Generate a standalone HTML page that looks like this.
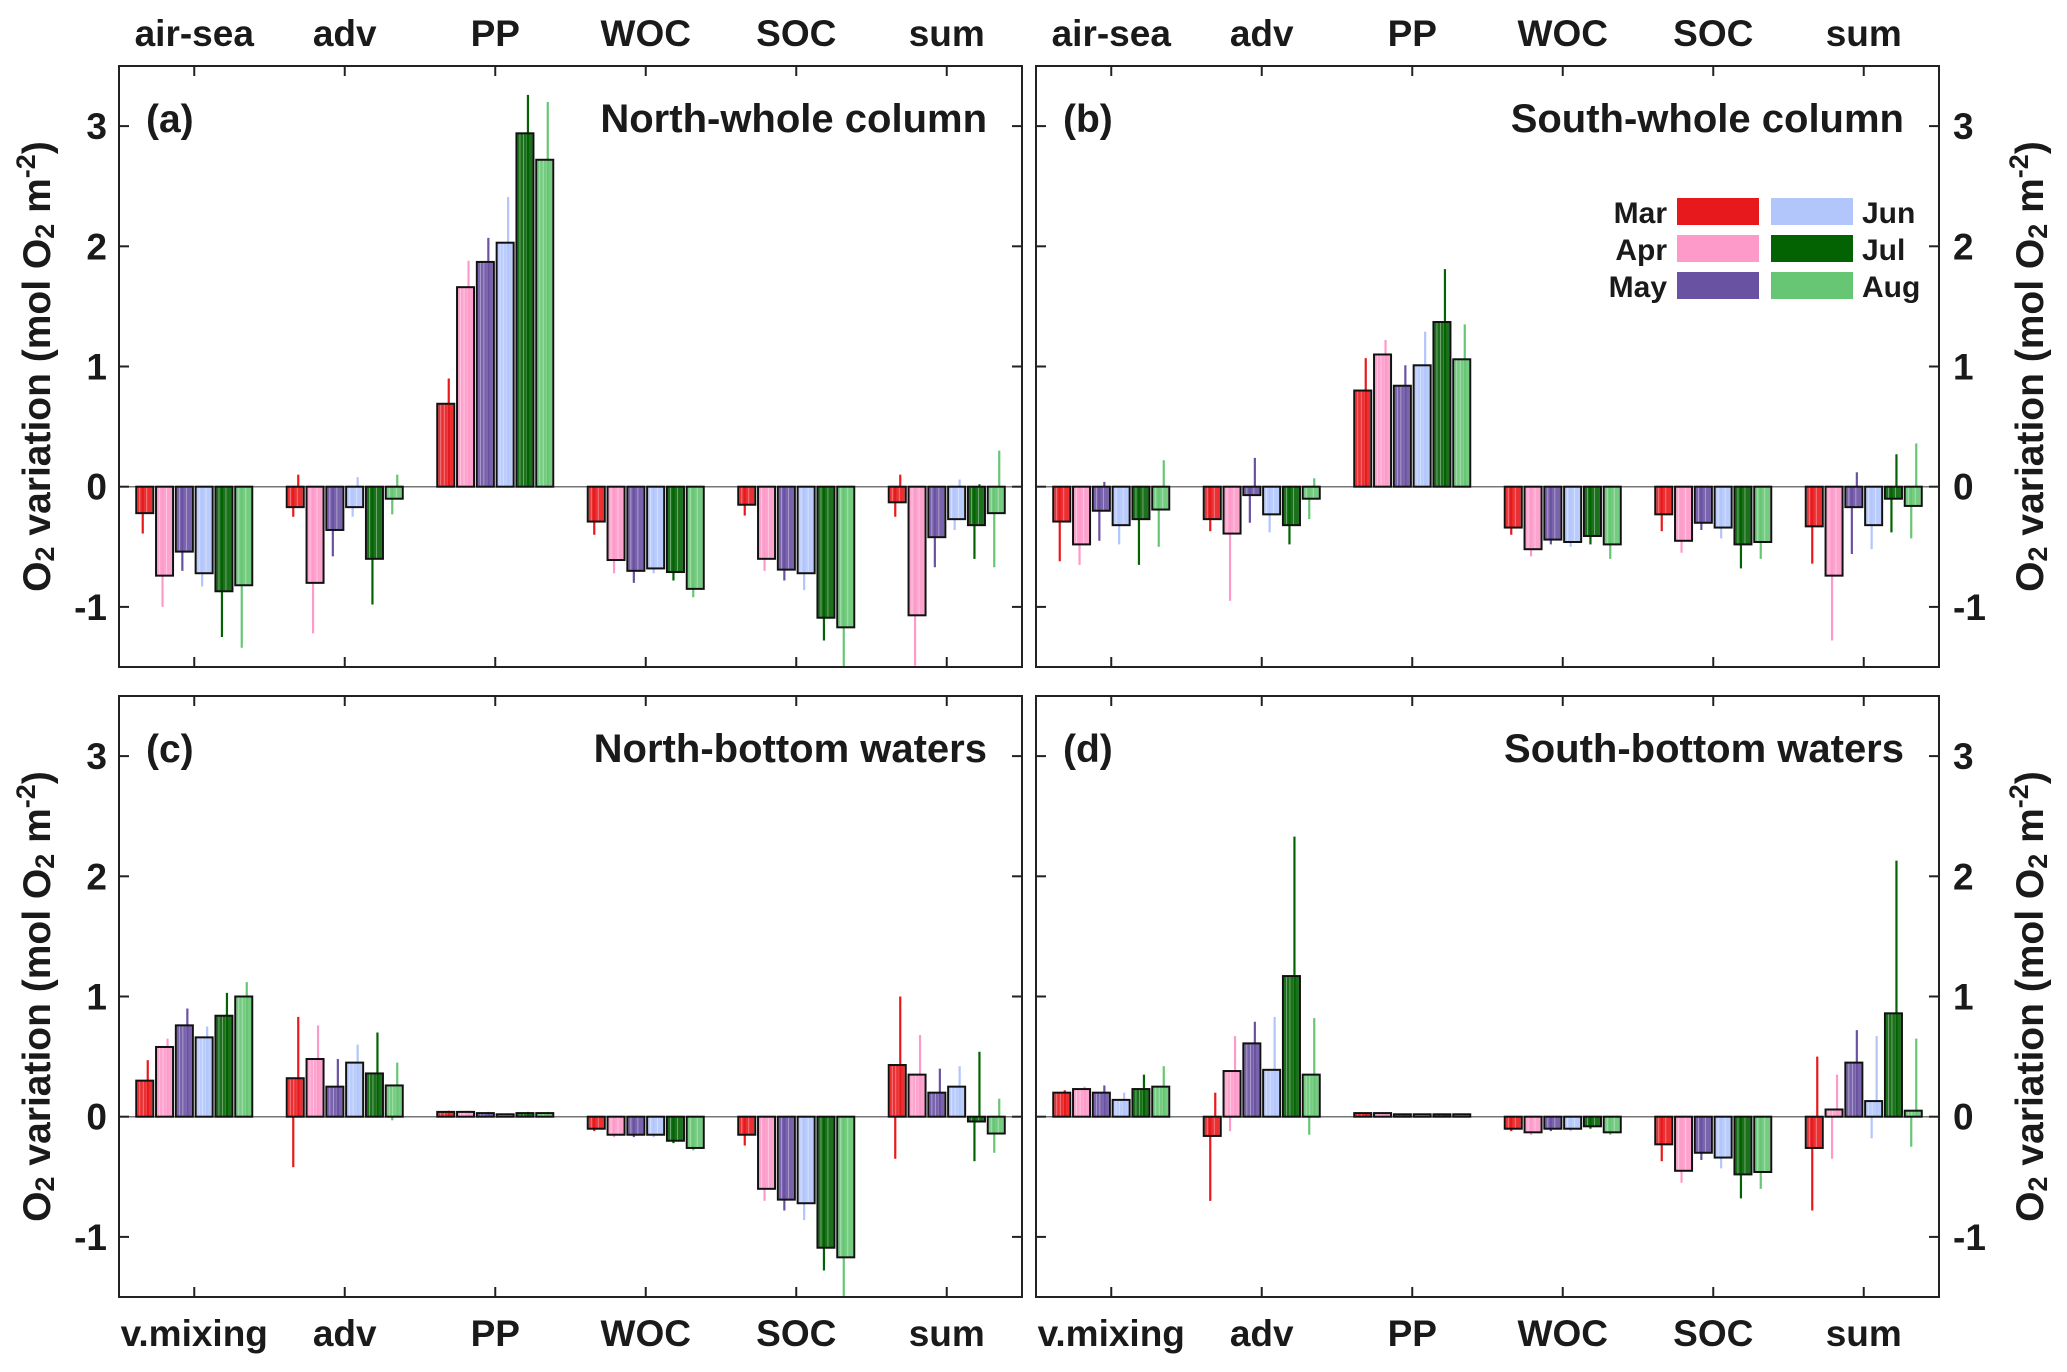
<!DOCTYPE html>
<html><head><meta charset="utf-8"><style>
html,body{margin:0;padding:0;background:#fff}
svg{display:block}
text{font-family:"Liberation Sans",Arial,sans-serif;font-weight:bold;fill:#1a1a1a}
</style></head><body>
<svg id="fig" width="2067" height="1372" viewBox="0 0 2067 1372" xmlns="http://www.w3.org/2000/svg"></svg>
<script>
const months = ["Mar","Apr","May","Jun","Jul","Aug"];
const monthColors = ["#e8191c","#fd9ac9","#6a52a3","#b3c6fc","#036303","#66c673"];
const topCats = ["air-sea","adv","PP","WOC","SOC","sum"];
const bottomCats = ["v.mixing","adv","PP","WOC","SOC","sum"];
const yTicks = [-1,0,1,2,3];
const yTickLabels = ["-1","0","1","2","3"];

// panel (a) North-whole column
const meanA = [[-0.22,-0.74,-0.54,-0.72,-0.87,-0.82],[-0.17,-0.80,-0.36,-0.17,-0.60,-0.10],[0.69,1.66,1.87,2.03,2.94,2.72],[-0.29,-0.61,-0.70,-0.68,-0.71,-0.85],[-0.15,-0.60,-0.69,-0.72,-1.09,-1.17],[-0.13,-1.07,-0.42,-0.27,-0.32,-0.22]];
const hiA = [[0,0,0,0,0,0],[0.10,0,0,0.08,0,0.10],[0.90,1.88,2.07,2.41,3.26,3.20],[0,0,0,0,0,0],[0,0,0,0,0,0],[0.10,0,0,0.06,0.02,0.30]];
const loA = [[-0.39,-1.00,-0.70,-0.83,-1.25,-1.34],[-0.25,-1.22,-0.58,-0.25,-0.98,-0.23],[0,0,0,0,0,0],[-0.40,-0.72,-0.80,-0.72,-0.78,-0.92],[-0.24,-0.70,-0.78,-0.86,-1.28,-1.50],[-0.25,-1.49,-0.67,-0.36,-0.60,-0.67]];
// panel (b) South-whole column
const meanB = [[-0.29,-0.48,-0.20,-0.32,-0.27,-0.19],[-0.27,-0.39,-0.07,-0.23,-0.32,-0.10],[0.80,1.10,0.84,1.01,1.37,1.06],[-0.34,-0.52,-0.44,-0.46,-0.41,-0.48],[-0.23,-0.45,-0.30,-0.34,-0.48,-0.46],[-0.33,-0.74,-0.17,-0.32,-0.10,-0.16]];
const hiB = [[0,0,0.04,0,0,0.22],[0,0,0.24,0,0,0.07],[1.07,1.22,1.01,1.29,1.81,1.35],[0,0,0,0,0,0],[0,0,0,0,0,0],[0,0,0.12,0,0.27,0.36]];
const loB = [[-0.62,-0.65,-0.45,-0.48,-0.65,-0.50],[-0.37,-0.95,-0.30,-0.38,-0.48,-0.27],[0,0,0,0,0,0],[-0.40,-0.58,-0.48,-0.50,-0.48,-0.60],[-0.37,-0.55,-0.36,-0.43,-0.68,-0.60],[-0.64,-1.28,-0.56,-0.52,-0.38,-0.43]];
// panel (c) North-bottom waters
const meanC = [[0.30,0.58,0.76,0.66,0.84,1.00],[0.32,0.48,0.25,0.45,0.36,0.26],[0.04,0.04,0.03,0.02,0.03,0.03],[-0.10,-0.15,-0.15,-0.15,-0.20,-0.26],[-0.15,-0.60,-0.69,-0.72,-1.09,-1.17],[0.43,0.35,0.20,0.25,-0.04,-0.14]];
const hiC = [[0.47,0.65,0.90,0.75,1.03,1.12],[0.83,0.76,0.48,0.60,0.70,0.45],[0.05,0.05,0.04,0.03,0.04,0.04],[0,0,0,0,0,0],[0,0,0,0,0,0],[1.00,0.68,0.40,0.42,0.54,0.15]];
const loC = [[0,0,0,0,0,0],[-0.42,0,0,0,0,-0.03],[0,0,0,0,0,0],[-0.12,-0.17,-0.17,-0.17,-0.22,-0.28],[-0.24,-0.70,-0.78,-0.86,-1.28,-1.50],[-0.35,0,0,0,-0.37,-0.30]];
// panel (d) South-bottom waters
const meanD = [[0.20,0.23,0.20,0.14,0.23,0.25],[-0.16,0.38,0.61,0.39,1.17,0.35],[0.03,0.03,0.02,0.02,0.02,0.02],[-0.10,-0.13,-0.10,-0.10,-0.08,-0.13],[-0.23,-0.45,-0.30,-0.34,-0.48,-0.46],[-0.26,0.06,0.45,0.13,0.86,0.05]];
const hiD = [[0.22,0.25,0.26,0.20,0.35,0.42],[0.20,0.67,0.79,0.83,2.33,0.82],[0.03,0.03,0.02,0.02,0.02,0.02],[0,0,0,0,0,0],[0,0,0,0,0,0],[0.50,0.35,0.72,0.67,2.13,0.65]];
const loD = [[0,0,0,0,0,0],[-0.70,-0.12,0,0,0,-0.15],[0,0,0,0,0,0],[-0.12,-0.15,-0.12,-0.12,-0.10,-0.15],[-0.37,-0.55,-0.36,-0.43,-0.68,-0.60],[-0.78,-0.35,0,-0.18,0,-0.25]];

const panelLetters = ["(a)","(b)","(c)","(d)"];
const panelTitles = ["North-whole column","South-whole column","North-bottom waters","South-bottom waters"];

const NS="http://www.w3.org/2000/svg";
const svg=document.getElementById('fig');
function mk(tag,attrs,parent){const e=document.createElementNS(NS,tag);for(const k in attrs)e.setAttribute(k,attrs[k]);(parent||svg).appendChild(e);return e;}

const PW=903, PH=601, YMIN=-1.5, YMAX=3.5;
const panels=[{x:119,y:66,m:meanA,hi:hiA,lo:loA,right:false,top:true},
  {x:1036,y:66,m:meanB,hi:hiB,lo:loB,right:true,top:true},
  {x:119,y:696,m:meanC,hi:hiC,lo:loC,right:false,top:false},
  {x:1036,y:696,m:meanD,hi:hiD,lo:loD,right:true,top:false}];

panels.forEach((p,pi)=>{
  const g=mk('g',{});
  
  
  const yS=v=>p.y+(YMAX-v)/(YMAX-YMIN)*PH;
  const gx=k=>p.x+(k+0.5)*PW/6;
  const bx=(k,i)=>gx(k)+(i-2.5)*19.8;
  const zl=mk('line',{x1:p.x,x2:p.x+PW,y1:yS(0),y2:yS(0),stroke:'#777','stroke-width':1.5},g);
  
  
  for(let k=0;k<6;k++){
    for(let i=0;i<6;i++){
      const v=p.m[k][i], h=p.hi[k][i], l=p.lo[k][i], c=monthColors[i];
      const cx=bx(k,i);
      const y0=yS(0), y1=yS(v);
      const fill=mk('rect',{x:cx-7.5,y:Math.min(y0,y1),width:15,height:Math.abs(y1-y0),fill:c,opacity:0.9},g);
      
      
      for(let s=-5;s<=5;s+=3.5){
        const st=mk('line',{x1:cx+s,x2:cx+s,y1:y0,y2:y1,stroke:'#fff','stroke-width':0.8,opacity:0.45},g);
        
        
      }
      if(h>0){
        const ln=mk('line',{x1:cx+3,x2:cx+3,y1:y0,y2:yS(h),stroke:c,'stroke-width':2.2},g);
        
        
      }
      if(l<0){
        const ln=mk('line',{x1:cx-2,x2:cx-2,y1:y0,y2:yS(l),stroke:c,'stroke-width':2.2},g);
        
        
      }
      const box=mk('rect',{x:cx-8.5,y:Math.min(y0,y1),width:17,height:Math.max(Math.abs(y1-y0),1),fill:'none',stroke:'#111','stroke-width':2},g);
      
      
    }
  }
  const fr=mk('rect',{x:p.x,y:p.y,width:PW,height:PH,fill:'none',stroke:'#222','stroke-width':2},g);
  
  
  for(let k=0;k<6;k++){
    const t1=mk('line',{x1:gx(k),x2:gx(k),y1:p.y,y2:p.y+10,stroke:'#222','stroke-width':2},g);
    
    
    const t2=mk('line',{x1:gx(k),x2:gx(k),y1:p.y+PH,y2:p.y+PH-10,stroke:'#222','stroke-width':2},g);
    
    
    if(p.top){
      const t=mk('text',{x:gx(k),y:46,'text-anchor':'middle','font-size':37},g);t.textContent=topCats[k];
      
      
    } else {
      const t=mk('text',{x:gx(k),y:1346,'text-anchor':'middle','font-size':37},g);t.textContent=bottomCats[k];
      
      
    }
  }
  yTicks.forEach((v,j)=>{
    const a=mk('line',{x1:p.x,x2:p.x+10,y1:yS(v),y2:yS(v),stroke:'#222','stroke-width':2},g);
    
    
    const b=mk('line',{x1:p.x+PW,x2:p.x+PW-10,y1:yS(v),y2:yS(v),stroke:'#222','stroke-width':2},g);
    
    
    const t=p.right? mk('text',{x:p.x+PW+14,y:yS(v)+13,'text-anchor':'start','font-size':37},g)
                   : mk('text',{x:p.x-12,y:yS(v)+13,'text-anchor':'end','font-size':37},g);
    t.textContent=yTickLabels[j];
    
    
  });
  const pl=mk('text',{x:p.x+27,y:p.y+66,'font-size':39},g);pl.textContent=panelLetters[pi];
  
  
  const pt=mk('text',{x:p.x+PW-35,y:p.y+66,'text-anchor':'end','font-size':40},g);pt.textContent=panelTitles[pi];
  
  
  const tx=p.right?2043:50, ty=p.y+PH/2;
  const yt=mk('text',{x:tx,y:ty,'text-anchor':'middle','font-size':39,transform:`rotate(-90 ${tx} ${ty})`},g);
  yt.innerHTML='O<tspan font-size="27" dy="4">2</tspan><tspan dy="-4"> variation (mol O</tspan><tspan font-size="27" dy="4">2</tspan><tspan dy="-4"> m</tspan><tspan font-size="27" dy="-15">-2</tspan><tspan dy="15">)</tspan>';
  
  
});

const lg=mk('g',{});


for(let i=0;i<6;i++){
  const col=i<3?0:1, row=i%3;
  const sx=col===0?1677:1771, sy=198+row*37;
  const r=mk('rect',{x:sx,y:sy,width:82,height:27,fill:monthColors[i]},lg);
  
  
  const t=col===0? mk('text',{x:1667,y:sy+25,'text-anchor':'end','font-size':30},lg)
                 : mk('text',{x:1862,y:sy+25,'text-anchor':'start','font-size':30},lg);
  t.textContent=months[i];
  
  
}
</script>
</body></html>
